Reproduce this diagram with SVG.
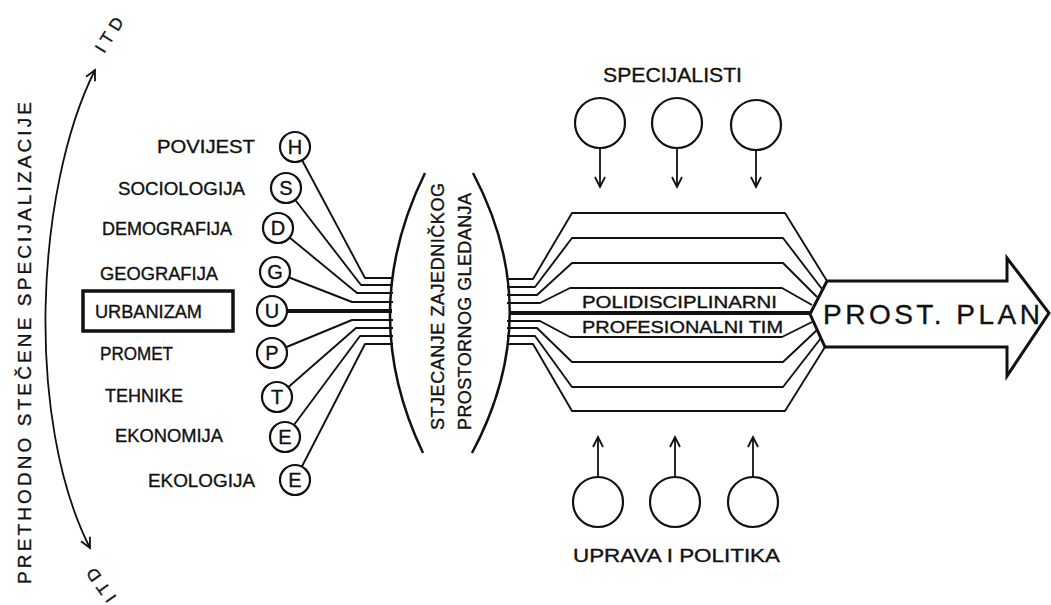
<svg xmlns="http://www.w3.org/2000/svg" width="1051" height="605" viewBox="0 0 1051 605">
<style>
text{font-family:"Liberation Sans","DejaVu Sans",sans-serif;fill:#111;stroke:#111;stroke-width:0.35;}
.lbl{font-size:18px;}
.ltr{font-size:20px;text-anchor:middle;}
.c{fill:#fff;stroke:#111;stroke-width:2.2;}
.ln{fill:none;stroke:#111;stroke-width:1.9;stroke-linejoin:round;}
.thick{fill:none;stroke:#111;stroke-width:4;}
.arr{fill:none;stroke:#111;stroke-width:1.8;marker-end:url(#open);}
</style>
<defs>
<marker id="open" markerUnits="userSpaceOnUse" markerWidth="14" markerHeight="14" viewBox="-1 -7 13 14" refX="10" refY="0" orient="auto">
<path d="M0,-5 L10,0 L0,5" fill="none" stroke="#111" stroke-width="1.8"/>
</marker>
<marker id="open2" markerUnits="userSpaceOnUse" markerWidth="14" markerHeight="14" viewBox="-1 -7 13 14" refX="10" refY="0" orient="auto-start-reverse">
<path d="M0,-5 L10,0 L0,5" fill="none" stroke="#111" stroke-width="1.8"/>
</marker>
</defs>
<rect width="1051" height="605" fill="#fff"/>

<g id="side-label">
<text transform="translate(31,584) rotate(-90)" font-size="19" textLength="482" lengthAdjust="spacing">PRETHODNO STEČENE SPECIJALIZACIJE</text>
<path d="M95,70 C35,190 25,420 90,548" fill="none" stroke="#111" stroke-width="1.8" marker-start="url(#open2)" marker-end="url(#open2)"/>
<text transform="translate(104,54) rotate(-58)" font-size="17" textLength="38" lengthAdjust="spacing">ITD</text>
<text transform="translate(117,597) rotate(-126)" font-size="17" textLength="38" lengthAdjust="spacing">ITD</text>
</g>

<g id="connectors">
<polyline class="ln" points="295,147 365,278 393,278"/>
<polyline class="ln" points="286,188 361,285 393,285"/>
<polyline class="ln" points="278,228 357,293 393,293"/>
<polyline class="ln" points="275,272 352,302 393,302"/>
<polyline class="thick" points="272,311 392,311"/>
<polyline class="ln" points="272,353 352,320 393,320"/>
<polyline class="ln" points="277,397 356,328 393,328"/>
<polyline class="ln" points="285,437 360,336 393,336"/>
<polyline class="ln" points="295,480 365,344 393,344"/>

<polyline class="ln" points="507,279 533,279 572,213 785,213 827,281"/>
<polyline class="ln" points="507,287 535,287 572,238 783,238 822,289"/>
<polyline class="ln" points="507,295 537,295 572,263 783,263 817,297"/>
<polyline class="ln" points="507,303 540,303 570,288 782,288 812,305"/>
<polyline class="thick" points="509,313 810,313"/>
<polyline class="ln" points="507,321 540,321 570,337 782,337 812,322"/>
<polyline class="ln" points="507,328 537,328 572,362 783,362 817,330"/>
<polyline class="ln" points="507,336 535,336 572,387 783,387 821,338"/>
<polyline class="ln" points="507,344 533,344 572,411 785,411 825,347"/>

<line class="arr" x1="600" y1="148" x2="600" y2="187"/>
<line class="arr" x1="677" y1="148" x2="677" y2="187"/>
<line class="arr" x1="756" y1="150" x2="756" y2="187"/>
<line class="arr" x1="598" y1="477" x2="598" y2="437"/>
<line class="arr" x1="675" y1="477" x2="675" y2="437"/>
<line class="arr" x1="753" y1="477" x2="753" y2="437"/>
</g>

<g id="node-H"><text class="lbl" x="157" y="153" textLength="98" lengthAdjust="spacingAndGlyphs">POVIJEST</text><circle class="c" cx="295" cy="147" r="15"/><text class="ltr" x="295" y="154">H</text></g>
<g id="node-S"><text class="lbl" x="118" y="195" textLength="127" lengthAdjust="spacingAndGlyphs">SOCIOLOGIJA</text><circle class="c" cx="286" cy="188" r="15"/><text class="ltr" x="286" y="195">S</text></g>
<g id="node-D"><text class="lbl" x="102" y="235" textLength="130" lengthAdjust="spacingAndGlyphs">DEMOGRAFIJA</text><circle class="c" cx="278" cy="228" r="15"/><text class="ltr" x="278" y="235">D</text></g>
<g id="node-G"><text class="lbl" x="100" y="280" textLength="118" lengthAdjust="spacingAndGlyphs">GEOGRAFIJA</text><circle class="c" cx="275" cy="272" r="15"/><text class="ltr" x="275" y="279">G</text></g>
<g id="node-U"><rect x="83" y="291" width="150" height="40" fill="none" stroke="#111" stroke-width="3.5"/><text class="lbl" x="95" y="318" textLength="107" lengthAdjust="spacingAndGlyphs">URBANIZAM</text><circle class="c" cx="272" cy="311" r="15"/><text class="ltr" x="272" y="318">U</text></g>
<g id="node-P"><text class="lbl" x="100" y="360" textLength="73" lengthAdjust="spacingAndGlyphs">PROMET</text><circle class="c" cx="272" cy="353" r="15"/><text class="ltr" x="272" y="360">P</text></g>
<g id="node-T"><text class="lbl" x="105" y="402" textLength="78" lengthAdjust="spacingAndGlyphs">TEHNIKE</text><circle class="c" cx="277" cy="397" r="15"/><text class="ltr" x="277" y="404">T</text></g>
<g id="node-E1"><text class="lbl" x="115" y="442" textLength="108" lengthAdjust="spacingAndGlyphs">EKONOMIJA</text><circle class="c" cx="285" cy="437" r="15"/><text class="ltr" x="285" y="444">E</text></g>
<g id="node-E2"><text class="lbl" x="148" y="487" textLength="107" lengthAdjust="spacingAndGlyphs">EKOLOGIJA</text><circle class="c" cx="295" cy="480" r="15"/><text class="ltr" x="295" y="487">E</text></g>

<g id="lens">
<path d="M425,173 Q356,313 423,453" fill="none" stroke="#111" stroke-width="2.5"/>
<path d="M473,173 Q547,313 472,453" fill="none" stroke="#111" stroke-width="2.5"/>
<text transform="translate(444,430) rotate(-90)" font-size="18" textLength="247" lengthAdjust="spacing">STJECANJE ZAJEDNIČKOG</text>
<text transform="translate(471,430) rotate(-90)" font-size="18" textLength="237" lengthAdjust="spacing">PROSTORNOG GLEDANJA</text>
</g>

<g id="team">
<text x="582" y="308" font-size="16" textLength="195" lengthAdjust="spacingAndGlyphs">POLIDISCIPLINARNI</text>
<text x="582" y="333" font-size="16" textLength="201" lengthAdjust="spacingAndGlyphs">PROFESIONALNI TIM</text>
</g>

<g id="plan">
<polygon points="827,281 1007,281 1007,258 1049,313 1007,376 1007,347 825,347 810,314" fill="#fff" stroke="#111" stroke-width="3" stroke-linejoin="miter"/>
<text x="823" y="324" font-size="28" textLength="217" lengthAdjust="spacing">PROST. PLAN</text>
</g>

<g id="specijalisti">
<text x="603" y="82" font-size="20" textLength="139" lengthAdjust="spacingAndGlyphs">SPECIJALISTI</text>
<circle class="c" cx="600" cy="123" r="25"/>
<circle class="c" cx="677" cy="123" r="25"/>
<circle class="c" cx="756" cy="125" r="25"/>
</g>

<g id="uprava">
<circle class="c" cx="598" cy="502" r="25"/>
<circle class="c" cx="675" cy="502" r="25"/>
<circle class="c" cx="753" cy="502" r="25"/>
<text x="573" y="562" font-size="19" textLength="207" lengthAdjust="spacingAndGlyphs">UPRAVA I POLITIKA</text>
</g>
</svg>
